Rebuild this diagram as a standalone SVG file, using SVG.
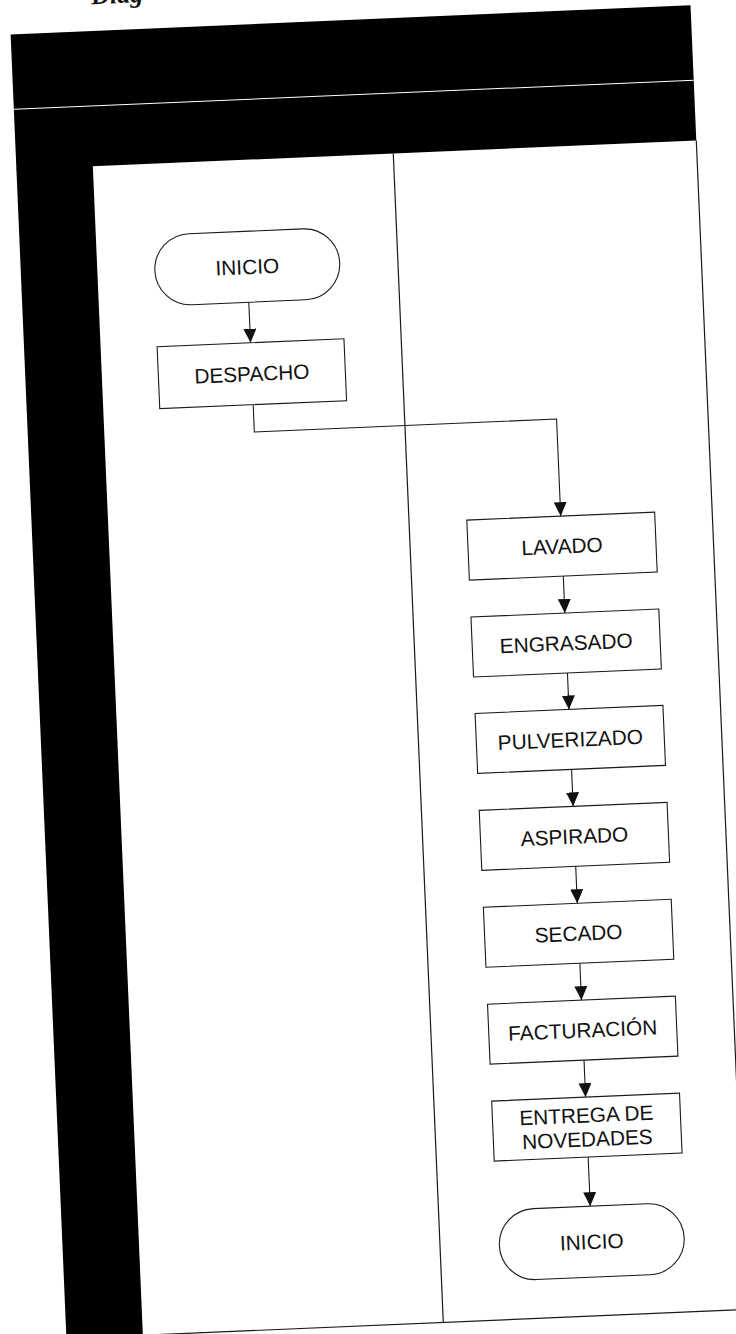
<svg xmlns="http://www.w3.org/2000/svg" width="736" height="1334" viewBox="0 0 736 1334">
<style>
.box{fill:#fff;stroke:#1a1a1a;stroke-width:1.1}
.t{font-family:"Liberation Sans",Arial,sans-serif;font-size:20.8px;fill:#111;text-anchor:middle}
.c{fill:none;stroke:#1a1a1a;stroke-width:1.1}
.frame{fill:none;stroke:#1a1a1a;stroke-width:1.2}
.ttl{font-family:"Liberation Serif","Times New Roman",serif;font-size:26px;font-weight:bold;font-style:italic;fill:#111}
</style>
<defs>
<marker id="ah" viewBox="0 0 14 13" refX="14" refY="6.5" markerWidth="14" markerHeight="13" markerUnits="userSpaceOnUse" orient="auto">
<path d="M0,0 L14,6.5 L0,13 z" fill="#111"/>
</marker>
</defs>
<rect x="0" y="0" width="736" height="1334" fill="#fff"/>
<g transform="rotate(-2.45 368 667)">
<text class="ttl" x="120" y="-7">Diag</text>
<g id="frame">
<rect x="38" y="19.7" width="680.5" height="135.3" fill="#000"/>
<line x1="38" y1="94.7" x2="718.5" y2="94.7" stroke="#fff" stroke-width="1"/>
<rect x="38" y="154" width="76.5" height="1220" fill="#000"/>
<line class="frame" x1="718.5" y1="155" x2="718.5" y2="1325"/>
<line class="frame" x1="114.5" y1="1325" x2="718.5" y2="1325"/>
<line class="frame" x1="415.2" y1="155" x2="415.2" y2="1325"/>
</g>
<g id="connectors">
<path class="c" d="M264.5,297.5 V338" marker-end="url(#ah)"/>
<path class="c" d="M264.5,400 V427.3 H567 V524.5" marker-end="url(#ah)"/>
<path class="c" d="M567,584.5 V621.5" marker-end="url(#ah)"/>
<path class="c" d="M567,681.5 V718" marker-end="url(#ah)"/>
<path class="c" d="M567,778 V815" marker-end="url(#ah)"/>
<path class="c" d="M567,875 V912" marker-end="url(#ah)"/>
<path class="c" d="M567,972 V1009" marker-end="url(#ah)"/>
<path class="c" d="M567,1069 V1106" marker-end="url(#ah)"/>
<path class="c" d="M567,1166 V1215.2" marker-end="url(#ah)"/>
</g>
<g id="inicio1">
<rect class="box" x="172" y="226.5" width="185" height="71" rx="35.5"/>
<text class="t" x="264.5" y="269.4">INICIO</text>
</g>
<g id="despacho">
<rect class="box" x="171" y="338" width="187" height="62"/>
<text class="t" x="264.5" y="376.4">DESPACHO</text>
</g>
<g id="lavado">
<rect class="box" x="473" y="524.5" width="188" height="60"/>
<text class="t" x="567" y="561.9">LAVADO</text>
</g>
<g id="engrasado">
<rect class="box" x="473" y="621.5" width="188" height="60"/>
<text class="t" x="567" y="658.9">ENGRASADO</text>
</g>
<g id="pulverizado">
<rect class="box" x="473" y="718" width="188" height="60"/>
<text class="t" x="567" y="755.4">PULVERIZADO</text>
</g>
<g id="aspirado">
<rect class="box" x="473" y="815" width="188" height="60"/>
<text class="t" x="567" y="852.4">ASPIRADO</text>
</g>
<g id="secado">
<rect class="box" x="473" y="912" width="188" height="60"/>
<text class="t" x="567" y="949.4">SECADO</text>
</g>
<g id="facturacion">
<rect class="box" x="473" y="1009" width="188" height="60"/>
<text class="t" x="567" y="1046.4">FACTURACIÓN</text>
</g>
<g id="entrega">
<rect class="box" x="473" y="1106" width="188" height="60"/>
<text class="t" x="567" y="1131.4">ENTREGA DE</text>
<text class="t" x="567" y="1155.4">NOVEDADES</text>
</g>
<g id="inicio2">
<rect class="box" x="474.5" y="1215.2" width="185" height="71" rx="35.5"/>
<text class="t" x="567" y="1258.1">INICIO</text>
</g>
</g>
</svg>
